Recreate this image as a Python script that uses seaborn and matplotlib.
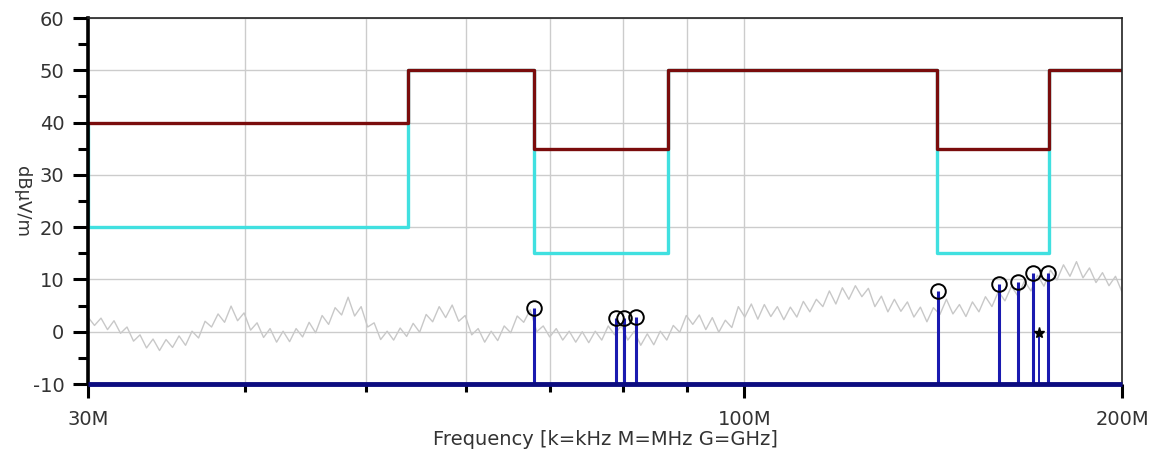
import numpy as np
import matplotlib
matplotlib.use("Agg")
import matplotlib.pyplot as plt
import seaborn as sns

# limit lines (band edges in MHz, one level per band)
band_edges = [30, 54, 68, 87, 142.5, 175, 200]
qp_limit = [40, 50, 35, 50, 35, 50]
avg_limit = [20, 50, 15, 50, 15, 50]
avg_start = 40

# measured peaks
peak_freq = [68.0, 79.0, 80.2, 82.0, 142.7, 159.6, 165.2, 169.8, 174.6]
peak_level = [4.6, 2.7, 2.7, 2.9, 7.8, 9.2, 9.6, 11.3, 11.3]
star_freq = [171.8]
star_level = [-0.2]

# background sweep
sweep_level = [
    2.8, 1.2, 2.6, 0.4, 2.1, -0.3, 0.9, -1.8, -0.6, -3.1,
    -1.4, -3.6, -1.5, -3.0, -0.8, -2.6, 0.1, -1.2, 2.0, 0.9,
    3.4, 1.8, 4.9, 2.1, 3.6, 0.3, 1.7, -1.1, 0.6, -2.0,
    0.1, -1.9, 0.6, -1.0, 1.8, -0.2, 3.1, 1.4, 4.6, 3.2,
    6.6, 3.0, 4.8, 0.9, 1.7, -1.5, 0.1, -1.6, 0.7, -0.9,
    1.6, -0.1, 3.3, 1.9, 4.8, 2.7, 5.1, 2.0, 3.1, -0.6,
    0.6, -2.0, 0.1, -1.7, 1.1, -0.2, 3.0, 1.8, 4.2, 0.0,
    1.1, -1.0, 0.6, -1.6, 0.1, -2.0, 0.0, -2.1, 0.1, -1.6,
    1.1, -0.6, 1.2, -1.6, 0.1, -2.6, -0.4, -2.5, 0.1, -1.6,
    1.2, -0.1, 3.1, 1.4, 3.2, 0.4, 2.7, -0.1, 2.2, 0.8,
    4.8, 2.8, 5.3, 2.4, 5.2, 2.9, 4.8, 2.3, 4.7, 2.8,
    5.8, 3.8, 6.2, 4.8, 7.8, 5.3, 8.4, 6.2, 8.8, 6.7,
    8.3, 4.8, 6.8, 3.8, 6.2, 3.9, 5.7, 2.8, 4.7, 1.9,
    4.6, 3.3, 6.2, 3.4, 5.2, 2.9, 5.7, 3.8, 6.7, 4.8,
    7.7, 5.9, 8.7, 6.8, 9.7, 7.8, 10.8, 8.7, 11.8, 9.9,
    12.8, 10.6, 13.4, 10.3, 12.2, 9.4, 11.3, 8.8, 10.6, 7.6,
]
sweep_freq = np.geomspace(30, 200, len(sweep_level))

x_ticks = [30, 100, 200]
x_tick_labels = ["30M", "100M", "200M"]
x_minor = [40, 50, 60, 70, 80, 90]

sns.set_style("white")
plt.rcParams["font.family"] = ["DejaVu Sans"]
plt.rcParams["axes.unicode_minus"] = False

fig = plt.figure(figsize=(11.56, 4.61), dpi=100)
ax = fig.add_axes([88 / 1156, 1 - 384 / 461, 1034 / 1156, 366 / 461])

ax.set_xscale("log")
ax.set_xlim(30, 200)
ax.set_ylim(-10, 60)

# grid
ax.set_xticks(x_ticks)
ax.set_xticklabels(x_tick_labels)
ax.set_xticks(x_minor, minor=True)
ax.set_xticklabels([], minor=True)
ax.set_yticks(range(-10, 61, 10))
ax.set_yticks(range(-5, 60, 10), minor=True)
ax.grid(True, which="both", axis="x", color="#cccccc", lw=1)
ax.grid(True, which="major", axis="y", color="#cccccc", lw=1)
ax.set_axisbelow(True)

# sweep
sns.lineplot(x=sweep_freq, y=sweep_level, ax=ax, color="#c8c8c8", lw=1.0, sort=False)

# limits
ax.step([band_edges[0]] + band_edges, [avg_start] + avg_limit + [avg_limit[-1]],
        where="post", color="#40e0e0", lw=2.4)
ax.step(band_edges, qp_limit + [qp_limit[-1]], where="post", color="#7a0c0c", lw=2.4)

# peaks
ax.vlines(peak_freq, -10, peak_level, color="#1a1ab0", lw=2.2)
ax.vlines(star_freq, -10, star_level, color="#1a1ab0", lw=1.4)
ax.plot(peak_freq, peak_level, "o", ms=10.5, mfc="none", mec="black", mew=1.4)
ax.plot(star_freq, star_level, "*", ms=8, color="black")
ax.axhline(-10, color="#0c0c80", lw=3.5, clip_on=False, zorder=5,
           solid_capstyle="butt")

# frame
for side in ["top", "right"]:
    ax.spines[side].set_color("#222222")
    ax.spines[side].set_linewidth(1.2)
ax.spines["left"].set_color("black")
ax.spines["left"].set_linewidth(2.6)
ax.spines["bottom"].set_visible(False)

ax.tick_params(axis="y", which="major", direction="out", length=11, width=2.2,
               color="black", labelsize=14, labelcolor="#333333", pad=6, left=True)
ax.tick_params(axis="y", which="minor", direction="out", length=7, width=2.2,
               color="black", left=True)
ax.tick_params(axis="x", which="major", direction="out", length=10, width=2.2,
               color="black", labelsize=14, labelcolor="#333333", pad=9, bottom=True)
ax.tick_params(axis="x", which="minor", direction="out", length=6, width=2.2,
               color="black", bottom=True)

ax.set_xlabel("Frequency [k=kHz M=MHz G=GHz]", fontsize=14, color="#333333")
ax.xaxis.set_label_coords(0.5, -0.125)
ax.set_ylabel("")
ax.text(-0.064, 0.5, "dBµV/m", transform=ax.transAxes, rotation=270,
        ha="center", va="center", fontsize=13, color="#333333")

fig.savefig("out.png", dpi=100)
